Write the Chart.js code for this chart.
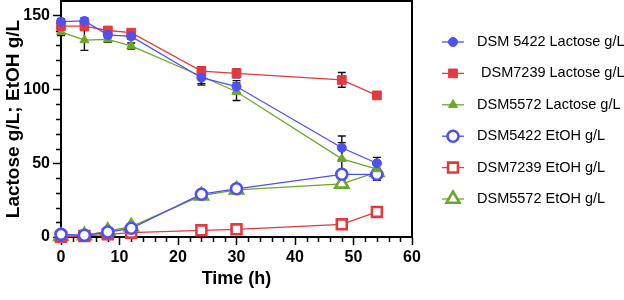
<!DOCTYPE html>
<html>
<head>
<meta charset="utf-8">
<script src="https://cdn.jsdelivr.net/npm/chart.js@4"></script>
<style>
  html, body { margin: 0; padding: 0; background: #fff; }
  #wrap { width: 624px; height: 300px; }
</style>
</head>
<body>
<div id="wrap"><canvas id="chart"></canvas></div>
<script>
// Lactose consumption and ethanol production over time, three strains.
const times = [0, 4, 8, 12, 24, 30, 48, 54];

const lac5422 = [146, 146.5, 137, 136, 108, 102, 60.5, 50];
const lac5422Err = [2, 2, 2, 2, 4, 4, 8, 4];
const lac7239 = [143, 143, 140, 138.5, 112.5, 111, 106.5, 96];
const lac7239Err = [2, 3, 1.5, 1.5, 3, 3, 5, 1.5];
const lac5572 = [139, 133.5, 134, 129.5, 109, 98.5, 53, 46];
const lac5572Err = [2.5, 7, 2, 2, 6, 6, 11, 3];

const etoh5422 = [1.8, 1.2, 3.4, 5.9, 29, 32.7, 42.5, 42.5];
const etoh5422Err = [0.5, 0.5, 1, 1, 1.5, 1.5, 2, 4];
const etoh7239 = [0.2, 0.7, 1.8, 2.9, 4.5, 5.2, 8.6, 17];
const etoh7239Err = [0.3, 0.3, 0.5, 0.5, 0.8, 0.8, 1, 1];
const etoh5572 = [0.5, 1, 4, 7, 28, 32, 36, 44];
const etoh5572Err = [0.5, 0.5, 1, 1, 1.5, 1.5, 3, 2];

const xTicks = [0, 10, 20, 30, 40, 50, 60];
const yTicks = [0, 50, 100, 150];

const BLUE = "#4f4ff2";
const RED = "#e23a40";
const GREEN = "#6aa82a";
const FONT = "'Liberation Sans', Arial, sans-serif";

const pts = (ys) => ys.map((y, i) => ({ x: times[i], y }));

function series(label, ys, err, color, style, radius, open) {
  return {
    label,
    data: pts(ys),
    err,
    borderColor: color,
    backgroundColor: open ? "#ffffff" : color,
    borderWidth: 1.3,
    pointStyle: style,
    pointRadius: radius,
    pointHoverRadius: radius,
    pointBorderWidth: open ? 2.6 : 1,
    pointBorderColor: color,
    pointBackgroundColor: open ? "#ffffff" : color,
    tension: 0,
    clip: false,
  };
}

const datasets = [
  series("DSM 5422 Lactose g/L", lac5422, lac5422Err, BLUE, "circle", 4.5, false),
  series(" DSM7239 Lactose g/L", lac7239, lac7239Err, RED, "rect", 6.2, false),
  series("DSM5572 Lactose g/L", lac5572, lac5572Err, GREEN, "triangle", 5.2, false),
  series("DSM5422 EtOH g/L", etoh5422, etoh5422Err, BLUE, "circle", 5.5, true),
  series("DSM7239 EtOH g/L", etoh7239, etoh7239Err, RED, "rect", 7, true),
  series("DSM5572 EtOH g/L", etoh5572, etoh5572Err, GREEN, "triangle", 7.5, true),
];

// error bars under the lines
const errorBars = {
  id: "errorBars",
  beforeDatasetsDraw(chart) {
    const { ctx, scales: { x, y } } = chart;
    ctx.save();
    ctx.strokeStyle = "#111";
    ctx.lineWidth = 1.4;
    chart.data.datasets.forEach((ds) => {
      ds.data.forEach((p, i) => {
        const e = ds.err[i];
        const px = x.getPixelForValue(p.x);
        const top = y.getPixelForValue(p.y + e);
        const bot = y.getPixelForValue(Math.max(0, p.y - e));
        ctx.beginPath();
        ctx.moveTo(px, top); ctx.lineTo(px, bot);
        ctx.moveTo(px - 4, top); ctx.lineTo(px + 4, top);
        ctx.moveTo(px - 4, bot); ctx.lineTo(px + 4, bot);
        ctx.stroke();
      });
    });
    ctx.restore();
  },
};

// box frame, minor ticks and legend
const frame = {
  id: "frame",
  beforeDatasetsDraw(chart) {
    const { ctx, chartArea: a, scales: { x, y } } = chart;
    ctx.save();
    ctx.strokeStyle = "#000";
    ctx.lineWidth = 2;
    ctx.beginPath();
    ctx.moveTo(a.left, a.top); ctx.lineTo(a.right, a.top); ctx.lineTo(a.right, a.bottom);
    ctx.stroke();
    ctx.lineWidth = 1.5;
    ctx.beginPath();
    for (let v = 2; v < 60; v += 2) {
      if (v % 10 === 0) continue;
      const px = Math.round(x.getPixelForValue(v)) + 0.5;
      ctx.moveTo(px, a.bottom); ctx.lineTo(px, a.bottom + 5);
    }
    for (let v = 10; v < 160; v += 10) {
      if (v % 50 === 0) continue;
      const py = Math.round(y.getPixelForValue(v)) + 0.5;
      ctx.moveTo(a.left, py); ctx.lineTo(a.left - 5, py);
    }
    ctx.stroke();
    ctx.restore();
  },
  afterDraw(chart) {
    const { ctx } = chart;
    const draw = Chart.helpers.drawPoint;
    ctx.save();
    ctx.font = "14.5px " + FONT;
    ctx.textBaseline = "middle";
    chart.data.datasets.forEach((ds, i) => {
      const yy = 42 + i * 31.4;
      ctx.strokeStyle = ds.borderColor;
      ctx.lineWidth = 1.3;
      ctx.beginPath();
      ctx.moveTo(442, yy); ctx.lineTo(464, yy);
      ctx.stroke();
      ctx.fillStyle = ds.pointBackgroundColor;
      ctx.strokeStyle = ds.pointBorderColor;
      ctx.lineWidth = ds.pointBorderWidth;
      draw(ctx, { pointStyle: ds.pointStyle, radius: ds.pointRadius, rotation: 0, borderWidth: ds.pointBorderWidth }, 453, yy);
      ctx.fillStyle = "#000";
      ctx.fillText(ds.label, 477, yy);
    });
    ctx.restore();
  },
};

new Chart(document.getElementById("chart"), {
  type: "line",
  data: { datasets },
  options: {
    responsive: true,
    maintainAspectRatio: false,
    animation: false,
    layout: { autoPadding: false, padding: { top: 1, right: 212, left: 0, bottom: 0 } },
    plugins: { legend: { display: false }, tooltip: { enabled: false } },
    scales: {
      x: {
        type: "linear",
        min: 0,
        max: 60,
        afterBuildTicks: (s) => { s.ticks = xTicks.map((v) => ({ value: v })); },
        afterFit: (s) => { s.height = 63; s.paddingLeft = 0; s.paddingRight = 0; },
        border: { color: "#000", width: 2 },
        grid: { drawOnChartArea: false, tickLength: 8, tickWidth: 1.5, tickColor: "#000" },
        ticks: { color: "#000", padding: 3, maxRotation: 0, font: { family: FONT, size: 16, weight: "bold" } },
        title: { display: true, text: "Time (h)", color: "#000", padding: { top: 2, bottom: 10 }, font: { family: FONT, size: 18, weight: "bold" } },
      },
      y: {
        type: "linear",
        min: 0,
        max: 160,
        afterBuildTicks: (s) => { s.ticks = yTicks.map((v) => ({ value: v })); },
        afterFit: (s) => { s.width = 61; s.paddingTop = 0; s.paddingBottom = 0; },
        border: { color: "#000", width: 2 },
        grid: { drawOnChartArea: false, tickLength: 8, tickWidth: 1.5, tickColor: "#000" },
        ticks: { color: "#000", padding: 3, font: { family: FONT, size: 16, weight: "bold" } },
        title: { display: true, text: "Lactose g/L; EtOH g/L", color: "#000", padding: { top: 2, bottom: 0 }, font: { family: FONT, size: 19, weight: "bold" } },
      },
    },
  },
  plugins: [errorBars, frame],
});
</script>
</body>
</html>
